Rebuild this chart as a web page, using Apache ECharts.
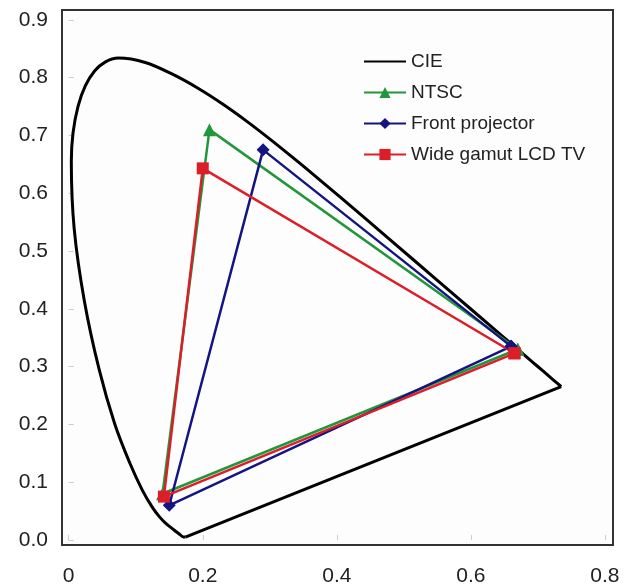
<!DOCTYPE html>
<html>
<head>
<meta charset="utf-8">
<script src="https://cdn.jsdelivr.net/npm/echarts@6/dist/echarts.min.js"></script>
<style>
    html, body {margin: 0; padding: 0; background: #ffffff;}
    #cie {width: 634px; height: 588px;}
</style>
</head>
<body>
<div id="cie"></div>
<script>
// spectral locus (380 -> 700 nm)
var cieX = [0.1741, 0.1714, 0.1644, 0.1566, 0.1440, 0.1355, 0.1241, 0.1096, 0.0913, 0.0687,
    0.0454, 0.0235, 0.0082, 0.0039, 0.0139, 0.0389, 0.0743, 0.1142, 0.1547, 0.1929,
    0.2296, 0.2658, 0.3016, 0.3373, 0.3731, 0.4441, 0.5125, 0.5752, 0.6270, 0.6658,
    0.6915, 0.7079, 0.7190, 0.7300, 0.7347];
var cieY = [0.0050, 0.0051, 0.0109, 0.0177, 0.0297, 0.0399, 0.0578, 0.0868, 0.1327, 0.2007,
    0.2950, 0.4127, 0.5384, 0.6548, 0.7502, 0.8120, 0.8338, 0.8262, 0.8059, 0.7816,
    0.7543, 0.7243, 0.6923, 0.6589, 0.6245, 0.5547, 0.4866, 0.4242, 0.3725, 0.3340,
    0.3083, 0.2920, 0.2809, 0.2700, 0.2653];
// line of purples
var purpleX = [0.7347, 0.1741];
var purpleY = [0.2653, 0.0050];

// primaries R, G, B (R repeated to close the triangle)
var ntscX = [0.67, 0.21, 0.14, 0.67];
var ntscY = [0.33, 0.71, 0.08, 0.33];
var projX = [0.66, 0.29, 0.15, 0.66];
var projY = [0.335, 0.675, 0.06, 0.335];
var lcdX = [0.665, 0.20, 0.142, 0.665];
var lcdY = [0.323, 0.643, 0.075, 0.323];

var xTicks = [0, 0.2, 0.4, 0.6, 0.8];
var yTicks = [0, 0.1, 0.2, 0.3, 0.4, 0.5, 0.6, 0.7, 0.8, 0.9];

function pairs(xs, ys) {
    var out = [];
    for (var i = 0, l = xs.length; i < l; i++) {
        out.push([xs[i], ys[i]]);
    }
    return out;
}

var fontName = '"Liberation Sans", Arial, sans-serif';
var chart = echarts.init(document.getElementById('cie'));

option = {
    animation: false,
    backgroundColor: '#ffffff',
    textStyle: {fontFamily: fontName},
    grid: {
        left: 62,
        right: 21,
        top: 10,
        bottom: 43,
        show: true,
        backgroundColor: '#fdfdfd',
        borderColor: '#333333',
        borderWidth: 2
    },
    legend: {
        left: 363,
        top: 52,
        padding: 0,
        orient: 'vertical',
        itemWidth: 42,
        itemHeight: 14,
        itemGap: 12,
        textStyle: {fontSize: 19, color: '#222222', lineHeight: 19},
        data: [
            {name: 'CIE', itemStyle: {opacity: 0}},
            'NTSC', 'Front projector', 'Wide gamut LCD TV'
        ]
    },
    xAxis: {
        type: 'value',
        min: -0.01,
        max: 0.812,
        splitLine: {show: false},
        axisLine: {show: false},
        axisTick: {show: true, inside: true, length: 5, lineStyle: {color: '#cccccc'}, customValues: xTicks},
        axisLabel: {
            fontSize: 21,
            color: '#222222',
            margin: 21,
            customValues: xTicks,
            formatter: function (v) { return String(Math.round(v * 10) / 10); }
        }
    },
    yAxis: {
        type: 'value',
        min: -0.0087,
        max: 0.917,
        splitLine: {show: false},
        axisLine: {show: false},
        axisTick: {show: true, inside: true, length: 5, lineStyle: {color: '#cccccc'}, customValues: yTicks},
        axisLabel: {
            fontSize: 21,
            color: '#222222',
            margin: 14,
            customValues: yTicks,
            formatter: function (v) { return v.toFixed(1); }
        }
    },
    series: [
        {
            name: 'CIE',
            type: 'line',
            data: pairs(cieX, cieY),
            symbol: 'none',
            smooth: 0.35,
            color: '#000000',
            lineStyle: {width: 3, color: '#000000'}
        },
        {
            name: 'CIE',
            type: 'line',
            data: pairs(purpleX, purpleY),
            symbol: 'none',
            color: '#000000',
            lineStyle: {width: 3, color: '#000000'}
        },
        {
            name: 'NTSC',
            type: 'line',
            data: pairs(ntscX, ntscY),
            symbol: 'triangle',
            symbolSize: 13,
            color: '#22963a',
            lineStyle: {width: 2.5, color: '#22963a'},
            itemStyle: {color: '#22963a'}
        },
        {
            name: 'Front projector',
            type: 'line',
            data: pairs(projX, projY),
            symbol: 'diamond',
            symbolSize: 13,
            color: '#141482',
            lineStyle: {width: 2.5, color: '#141482'},
            itemStyle: {color: '#141482'}
        },
        {
            name: 'Wide gamut LCD TV',
            type: 'line',
            data: pairs(lcdX, lcdY),
            symbol: 'rect',
            symbolSize: 12,
            color: '#dc1e28',
            lineStyle: {width: 2.5, color: '#dc1e28'},
            itemStyle: {color: '#dc1e28'}
        }
    ]
};
chart.setOption(option);
</script>
</body>
</html>
